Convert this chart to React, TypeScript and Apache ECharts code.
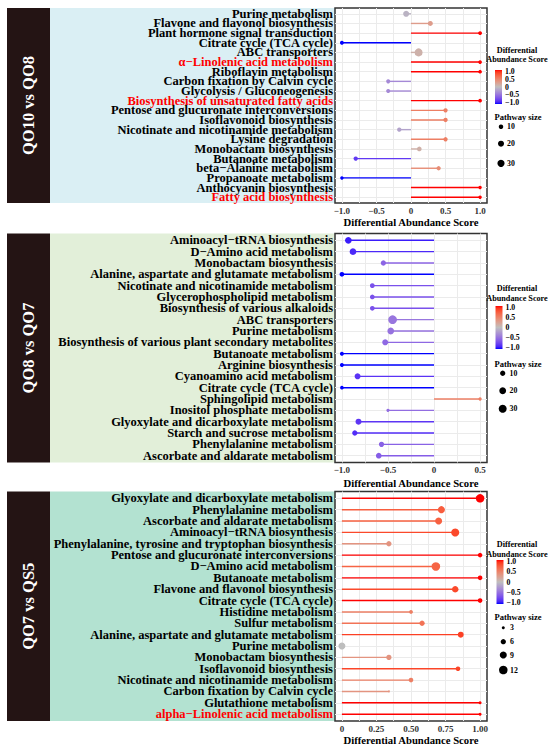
import React, { useEffect, useRef } from "react";
import * as echarts from "echarts";

const FONT = '"Liberation Serif", "Times New Roman", Times, serif';

// ---------- Data ----------
const p1Names = ["Purine metabolism", "Flavone and flavonol biosynthesis", "Plant hormone signal transduction", "Citrate cycle (TCA cycle)", "ABC transporters", "α−Linolenic acid metabolism", "Riboflavin metabolism", "Carbon fixation by Calvin cycle", "Glycolysis / Gluconeogenesis", "Biosynthesis of unsaturated fatty acids", "Pentose and glucuronate interconversions", "Isoflavonoid biosynthesis", "Nicotinate and nicotinamide metabolism", "Lysine degradation", "Monobactam biosynthesis", "Butanoate metabolism", "beta−Alanine metabolism", "Propanoate metabolism", "Anthocyanin biosynthesis", "Fatty acid biosynthesis"];
const p1Scores = [-0.07, 0.28, 1, -1, 0.11, 1, 1, -0.33, -0.33, 1, 0.5, 0.5, -0.17, 0.5, 0.12, -0.8, 0.4, -1, 1, 1];
const p1Sizes = [20, 13, 7, 7, 38, 6, 6, 8, 8, 6, 9, 9, 9, 9, 11, 9, 9, 5, 5, 5];
const p1Red = ["α−Linolenic acid metabolism", "Biosynthesis of unsaturated fatty acids", "Fatty acid biosynthesis"];
const p1Ticks = [-1, -0.5, 0, 0.5, 1];
const p1Minor = [-0.75, -0.25, 0.25, 0.75];
const p1SizeBreaks = [10, 20, 30];

const p2Names = ["Aminoacyl−tRNA biosynthesis", "D−Amino acid metabolism", "Monobactam biosynthesis", "Alanine, aspartate and glutamate metabolism", "Nicotinate and nicotinamide metabolism", "Glycerophospholipid metabolism", "Biosynthesis of various alkaloids", "ABC transporters", "Purine metabolism", "Biosynthesis of various plant secondary metabolites", "Butanoate metabolism", "Arginine biosynthesis", "Cyanoamino acid metabolism", "Citrate cycle (TCA cycle)", "Sphingolipid metabolism", "Inositol phosphate metabolism", "Glyoxylate and dicarboxylate metabolism", "Starch and sucrose metabolism", "Phenylalanine metabolism", "Ascorbate and aldarate metabolism"];
const p2Scores = [-0.93, -0.88, -0.55, -1, -0.67, -0.67, -0.67, -0.45, -0.47, -0.53, -1, -1, -0.83, -1, 0.5, -0.5, -0.82, -0.86, -0.57, -0.6];
const p2Sizes = [19, 19, 10, 7, 7, 7, 7, 37, 19, 14, 4, 4, 14, 3, 2, 2, 14, 10, 10, 12];
const p2Red: string[] = [];
const p2Ticks = [-1, -0.5, 0, 0.5];
const p2Minor = [-0.75, -0.25, 0.25];
const p2SizeBreaks = [10, 20, 30];

const p3Names = ["Glyoxylate and dicarboxylate metabolism", "Phenylalanine metabolism", "Ascorbate and aldarate metabolism", "Aminoacyl−tRNA biosynthesis", "Phenylalanine, tyrosine and tryptophan biosynthesis", "Pentose and glucuronate interconversions", "D−Amino acid metabolism", "Butanoate metabolism", "Flavone and flavonol biosynthesis", "Citrate cycle (TCA cycle)", "Histidine metabolism", "Sulfur metabolism", "Alanine, aspartate and glutamate metabolism", "Purine metabolism", "Monobactam biosynthesis", "Isoflavonoid biosynthesis", "Nicotinate and nicotinamide metabolism", "Carbon fixation by Calvin cycle", "Glutathione metabolism", "alpha−Linolenic acid metabolism"];
const p3Scores = [1, 0.72, 0.7, 0.82, 0.34, 1, 0.68, 1, 0.82, 1, 0.5, 0.58, 0.86, 0, 0.34, 0.84, 0.5, 0.34, 1, 1];
const p3Sizes = [12, 9, 9, 11, 6, 5, 12, 5, 8, 5, 4, 6, 7, 9, 6, 5, 5, 2, 3, 3];
const p3Red = ["alpha−Linolenic acid metabolism"];
const p3Ticks = [0, 0.25, 0.5, 0.75, 1];
const p3Minor = [0.125, 0.375, 0.625, 0.875];
const p3SizeBreaks = [3, 6, 9, 12];

const colorBreaks = [1, 0.5, 0, -0.5, -1];
const panelTitles = ["QO10 vs QO8", "QO8 vs QO7", "QO7 vs QS5"];
const axisTitle = "Differential Abundance Score";

// ---------- Colour scale (Lab interpolation, blue - grey - red) ----------
const BLUE = [0, 0, 255];
const MID = [190, 190, 190];
const RED = [255, 0, 0];
function toLin(c: number) { c /= 255; return c <= 0.04045 ? c / 12.92 : Math.pow((c + 0.055) / 1.055, 2.4); }
function fromLin(c: number) { const v = c <= 0.0031308 ? 12.92 * c : 1.055 * Math.pow(c, 1 / 2.4) - 0.055; return Math.max(0, Math.min(255, Math.round(v * 255))); }
function rgbToLab(rgb: number[]) {
  const r = toLin(rgb[0]), g = toLin(rgb[1]), b = toLin(rgb[2]);
  const X = (0.4124 * r + 0.3576 * g + 0.1805 * b) / 0.95047;
  const Y = 0.2126 * r + 0.7152 * g + 0.0722 * b;
  const Z = (0.0193 * r + 0.1192 * g + 0.9505 * b) / 1.08883;
  const f = (t: number) => (t > 0.008856 ? Math.cbrt(t) : 7.787 * t + 16 / 116);
  const fx = f(X), fy = f(Y), fz = f(Z);
  return [116 * fy - 16, 500 * (fx - fy), 200 * (fy - fz)];
}
function labToRgb(lab: number[]) {
  const fy = (lab[0] + 16) / 116, fx = fy + lab[1] / 500, fz = fy - lab[2] / 200;
  const fi = (t: number) => (t > 0.206893 ? t * t * t : (t - 16 / 116) / 7.787);
  const X = fi(fx) * 0.95047, Y = fi(fy), Z = fi(fz) * 1.08883;
  const r = 3.2406 * X - 1.5372 * Y - 0.4986 * Z;
  const g = -0.9689 * X + 1.8758 * Y + 0.0415 * Z;
  const b = 0.0557 * X - 0.204 * Y + 1.057 * Z;
  return [fromLin(r), fromLin(g), fromLin(b)];
}
const LAB_MID = rgbToLab(MID), LAB_RED = rgbToLab(RED), LAB_BLUE = rgbToLab(BLUE);
function colorFor(v: number) {
  const t = Math.max(-1, Math.min(1, v));
  const end = t >= 0 ? LAB_RED : LAB_BLUE;
  const k = Math.abs(t);
  const lab = [0, 1, 2].map((i) => LAB_MID[i] + (end[i] - LAB_MID[i]) * k);
  const c = labToRgb(lab);
  return `rgb(${c[0]},${c[1]},${c[2]})`;
}

// ---------- Layout ----------
const sizeFns = [
  (s: number) => 1.166 * Math.sqrt(s) + 0.81,
  (s: number) => 1.166 * Math.sqrt(s) + 1.61,
  (s: number) => 3.18 * Math.sqrt(s) - 2.5,
];
const grids = [
  { top: 8, height: 195 },
  { top: 233.5, height: 229 },
  { top: 491.5, height: 229.5 },
];
const xRanges = [
  [-1.1, 1.1],
  [-1.075, 0.575],
  [-0.05, 1.05],
];
const bgColors = ["#DAEFF4", "#E2EFD9", "#B3E2D1"];
const legends = [
  { titleX: 517, t1: 50, t2: 59.5, barX: 495, barY: 70, barH: 34, labX: 505, psX: 518, psY: 116.5, dotX: 501, dotYs: [126.7, 143.7, 163.3], dotLabX: 507 },
  { titleX: 517, t1: 288.5, t2: 298.3, barX: 495.5, barY: 306, barH: 43, labX: 505.5, psX: 518, psY: 363.7, dotX: 502.7, dotYs: [373.3, 390.7, 408.7], dotLabX: 509.5 },
  { titleX: 517, t1: 544.3, t2: 554, barX: 496.5, barY: 560, barH: 44, labX: 506.5, psX: 518, psY: 616.7, dotX: 503.3, dotYs: [627.7, 641.7, 655, 670], dotLabX: 510 },
];

const panels = [
  { names: p1Names, scores: p1Scores, sizes: p1Sizes, red: p1Red, ticks: p1Ticks, minor: p1Minor, digits: 1, sizeBreaks: p1SizeBreaks },
  { names: p2Names, scores: p2Scores, sizes: p2Sizes, red: p2Red, ticks: p2Ticks, minor: p2Minor, digits: 1, sizeBreaks: p2SizeBreaks },
  { names: p3Names, scores: p3Scores, sizes: p3Sizes, red: p3Red, ticks: p3Ticks, minor: p3Minor, digits: 2, sizeBreaks: p3SizeBreaks },
];

const YFS = 12.5;
const EXPAND = 0.6; // discrete axis expansion (ggplot style)

function fmtNum(v: number, digits: number) {
  if (Math.abs(v) < 1e-9) return "0";
  return (v < 0 ? "−" : "") + Math.abs(v).toFixed(digits);
}

function txt(x: number, y: number, text: string, size: number, align = "center", extra: any = {}) {
  return {
    type: "text", x, y, z: 5,
    style: { text, fill: "#000", fontFamily: FONT, fontWeight: "bold", fontSize: size, align, textAlign: align, verticalAlign: "middle", textVerticalAlign: "middle", ...extra },
  };
}

function buildOption() {
  const grid: any[] = [];
  const xAxis: any[] = [];
  const yAxis: any[] = [];
  const series: any[] = [];
  const graphic: any[] = [];

  panels.forEach((p, pi) => {
    const g = grids[pi];
    grid.push({ left: 335, top: g.top, width: 152, height: g.height, show: true, borderColor: "#333333", borderWidth: 1.5, backgroundColor: "#ffffff", containLabel: false, outerBoundsMode: "none" });
    const allLines = [...p.ticks, ...p.minor].sort((a, b) => a - b);
    xAxis.push({
      type: "value", gridIndex: pi, min: xRanges[pi][0], max: xRanges[pi][1],
      axisLine: { show: false, onZero: false },
      axisTick: { show: false, customValues: allLines },
      splitLine: { show: true, lineStyle: { color: "#EBEBEB", width: 1 } },
      axisLabel: { customValues: p.ticks, showMinLabel: true, showMaxLabel: true, formatter: (v: number) => fmtNum(v, p.digits), fontFamily: FONT, fontWeight: "bold", fontSize: 9, color: "#333", margin: 3 },
      name: axisTitle, nameLocation: "middle", nameGap: pi === 1 ? 14.5 : 13.5,
      nameTextStyle: { fontFamily: FONT, fontWeight: "bold", fontSize: 10.7, color: "#000" },
    });
    const idx = p.names.map((_, i) => i);
    yAxis.push({
      type: "value", gridIndex: pi, min: -EXPAND, max: p.names.length - 1 + EXPAND, inverse: true,
      axisLine: { show: false, onZero: false },
      axisTick: { show: false, customValues: idx },
      splitLine: { show: true, lineStyle: { color: "#EBEBEB", width: 1 } },
      axisLabel: { show: false },
    });
    const lineData = p.scores.map((v, i) => [v, i]);
    series.push({
      type: "custom", xAxisIndex: pi, yAxisIndex: pi, data: lineData, encode: { x: 0, y: 1 }, z: 2,
      renderItem: (_params: any, api: any) => {
        const v = api.value(0), i = api.value(1);
        const a = api.coord([0, i]);
        const b = api.coord([v, i]);
        return { type: "line", shape: { x1: a[0], y1: a[1], x2: b[0], y2: b[1] }, style: { stroke: colorFor(v), lineWidth: 1.4 } };
      },
    });
    series.push({
      type: "scatter", xAxisIndex: pi, yAxisIndex: pi, z: 3,
      data: p.scores.map((v, i) => [v, i, p.sizes[i]]),
      symbol: "circle",
      symbolSize: (d: number[]) => sizeFns[pi](d[2]),
      itemStyle: { color: (prm: any) => colorFor(prm.value[0]), opacity: 1 },
    });

    // backgrounds and panel label
    const top = g.top, h = g.height;
    graphic.push({ type: "rect", z: -1, shape: { x: 50, y: top, width: 285, height: h }, style: { fill: bgColors[pi] } });
    graphic.push({ type: "rect", z: -1, shape: { x: 7, y: top, width: 43, height: h }, style: { fill: "#241414" } });
    graphic.push({
      type: "text", x: 28.7, y: top + h / 2, rotation: Math.PI / 2, z: 5,
      style: { text: panelTitles[pi], fill: "#ffffff", fontFamily: FONT, fontWeight: "bold", fontSize: 16.5, align: "center", textAlign: "center", verticalAlign: "middle", textVerticalAlign: "middle" },
    });

    // legend
    const L = legends[pi];
    graphic.push(txt(L.titleX, L.t1, "Differential", 8.2));
    graphic.push(txt(L.titleX, L.t2, "Abundance Score", 8.2));
    const stops = [];
    for (let k = 0; k <= 20; k++) stops.push({ offset: k / 20, color: colorFor(1 - (2 * k) / 20) });
    graphic.push({
      type: "rect", z: 5, shape: { x: L.barX, y: L.barY, width: 7, height: L.barH },
      style: { fill: { type: "linear", x: 0, y: 0, x2: 0, y2: 1, colorStops: stops } },
    });
    colorBreaks.forEach((v) => {
      const y = L.barY + 1.5 + ((1 - v) / 2) * (L.barH - 3);
      graphic.push(txt(L.labX, y, fmtNum(v, 1), 7.8, "left"));
    });
    graphic.push(txt(L.psX, L.psY, "Pathway size", 8.5));
    p.sizeBreaks.forEach((s, i) => {
      graphic.push({ type: "circle", z: 5, shape: { cx: L.dotX, cy: L.dotYs[i], r: sizeFns[pi](s) / 2 }, style: { fill: "#000" } });
      graphic.push(txt(L.dotLabX, L.dotYs[i], String(s), 7.8, "left"));
    });
  });

  // label-only grids with category axes, inset so band centres match the ggplot-style expansion
  panels.forEach((p, pi) => {
    const g = grids[pi];
    const n = p.names.length;
    const band = g.height / (n - 1 + 2 * EXPAND);
    const inset = (EXPAND - 0.5) * band;
    const gi = grid.length;
    grid.push({ left: 335, top: g.top + inset, width: 152, height: g.height - 2 * inset, show: false, containLabel: false, outerBoundsMode: "none" });
    xAxis.push({ type: "value", gridIndex: gi, show: false, min: 0, max: 1 });
    yAxis.push({
      type: "category", gridIndex: gi, inverse: true, boundaryGap: true,
      data: p.names.map((nm) => ({ value: nm, textStyle: { color: p.red.includes(nm) ? "#FF0000" : "#000000" } })),
      axisLine: { show: false, onZero: false },
      axisTick: { show: false },
      splitLine: { show: false },
      axisLabel: { interval: 0, margin: 2, fontFamily: FONT, fontWeight: "bold", fontSize: YFS, color: "#000", hideOverlap: false },
    });
  });

  return { animation: false, backgroundColor: "#ffffff", grid, xAxis, yAxis, series, graphic };
}

export default function App() {
  const ref = useRef<HTMLDivElement>(null);
  useEffect(() => {
    if (!ref.current) return;
    const chart = echarts.init(ref.current, null, { renderer: "svg" });
    chart.setOption(buildOption() as any);
    return () => chart.dispose();
  }, []);
  return <div ref={ref} style={{ position: "absolute", left: 0, top: 0, width: 550, height: 751 }} />;
}
